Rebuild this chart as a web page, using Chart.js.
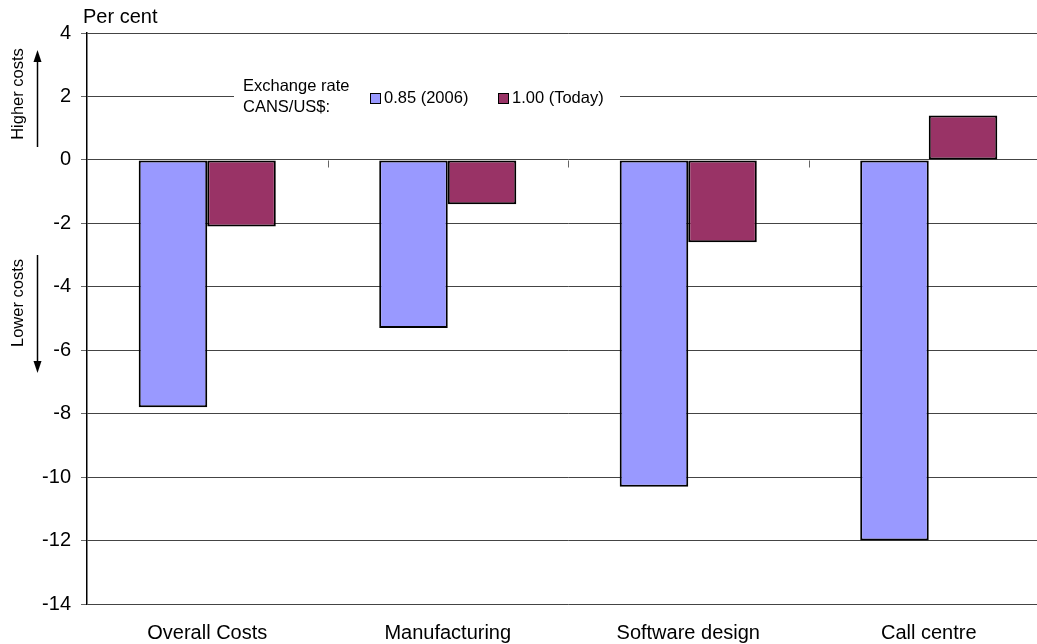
<!DOCTYPE html>
<html>
<head>
<meta charset="utf-8">
<script src="https://cdn.jsdelivr.net/npm/chart.js@4/dist/chart.umd.min.js"></script>
<style>
  html, body { margin: 0; padding: 0; background: #fff; overflow: hidden; }
  #wrap { width: 1050px; height: 644px; }
</style>
</head>
<body>
<div id="wrap"><canvas id="chart"></canvas></div>
<script>
// chart data
var categories = ['Overall Costs', 'Manufacturing', 'Software design', 'Call centre'];
var rate2006 = [-7.8, -5.3, -10.3, -12.0];
var rateToday = [-2.1, -1.4, -2.6, 1.4];
var seriesNames = ['0.85 (2006)', '1.00 (Today)'];
var legendTitle = ['Exchange rate', 'CANS/US$:'];
var yTicks = [4, 2, 0, -2, -4, -6, -8, -10, -12, -14];

var FONT = 'Arial, "Liberation Sans", sans-serif';
var SMALL = '16.5px ' + FONT;

// extra bits: zero-line ticks, side notes, unit label, legend box
var extras = {
  id: 'extras',
  afterDatasetsDraw: function(chart) {
    var ctx = chart.ctx;
    var x = chart.scales.x, y = chart.scales.y;
    var zero = Math.round(y.getPixelForValue(0)) + 0.5;
    ctx.save();
    // ticks on zero line between categories
    ctx.strokeStyle = '#666';
    ctx.lineWidth = 1;
    for (var i = 0; i < categories.length - 1; i++) {
      var bx = Math.round((x.getPixelForValue(i) + x.getPixelForValue(i + 1)) / 2) + 0.5;
      ctx.beginPath();
      ctx.moveTo(bx, zero);
      ctx.lineTo(bx, zero + 7);
      ctx.stroke();
    }
    // unit
    ctx.fillStyle = '#000';
    ctx.font = '20px ' + FONT;
    ctx.textAlign = 'left';
    ctx.textBaseline = 'alphabetic';
    ctx.fillText('Per cent', 83, 23);

    // rotated notes
    ctx.font = SMALL;
    ctx.textAlign = 'center';
    ctx.textBaseline = 'middle';
    ctx.save();
    ctx.translate(18, 94);
    ctx.rotate(-Math.PI / 2);
    ctx.fillText('Higher costs', 0, 0);
    ctx.restore();
    ctx.save();
    ctx.translate(18, 303);
    ctx.rotate(-Math.PI / 2);
    ctx.fillText('Lower costs', 0, 0);
    ctx.restore();

    // arrows
    ctx.strokeStyle = '#000';
    ctx.fillStyle = '#000';
    ctx.lineWidth = 1.5;
    ctx.beginPath(); ctx.moveTo(37.5, 147); ctx.lineTo(37.5, 58); ctx.stroke();
    ctx.beginPath(); ctx.moveTo(33.5, 62); ctx.lineTo(37.5, 50); ctx.lineTo(41.5, 62); ctx.closePath(); ctx.fill();
    ctx.beginPath(); ctx.moveTo(37.5, 255); ctx.lineTo(37.5, 365); ctx.stroke();
    ctx.beginPath(); ctx.moveTo(33.5, 361); ctx.lineTo(37.5, 373); ctx.lineTo(41.5, 361); ctx.closePath(); ctx.fill();

    // legend
    ctx.fillStyle = '#fff';
    ctx.fillRect(234, 76, 386, 44);
    ctx.fillStyle = '#000';
    ctx.textAlign = 'left';
    ctx.fillText(legendTitle[0], 243, 86);
    ctx.fillText(legendTitle[1], 243, 107);
    var lx = [370, 498];
    ctx.lineWidth = 1;
    chart.data.datasets.forEach(function(ds, k) {
      ctx.fillStyle = ds.backgroundColor;
      ctx.fillRect(lx[k] + 0.5, 93.5, 10, 10);
      ctx.strokeStyle = '#000';
      ctx.strokeRect(lx[k] + 0.5, 93.5, 10, 10);
      ctx.fillStyle = '#000';
      ctx.fillText(ds.label, lx[k] + 14, 98);
    });
    ctx.restore();
  }
};

var chart = new Chart(document.getElementById('chart'), {
  type: 'bar',
  data: {
    labels: categories,
    datasets: [
      { label: seriesNames[0], data: rate2006, backgroundColor: '#9999FF', borderColor: '#000', borderWidth: 2, borderSkipped: false },
      { label: seriesNames[1], data: rateToday, backgroundColor: '#993366', borderColor: '#000', borderWidth: 2, borderSkipped: false }
    ]
  },
  options: {
    responsive: true,
    maintainAspectRatio: false,
    animation: false,
    layout: { padding: { top: 33, right: 1, left: 0, bottom: 0 } },
    datasets: { bar: { categoryPercentage: 0.57, barPercentage: 1.0 } },
    plugins: {
      legend: { display: false },
      tooltip: { enabled: false }
    },
    scales: {
      x: {
        grid: { display: false, drawTicks: false },
        border: { display: false },
        ticks: { color: '#000', font: { size: 20, family: FONT }, padding: 17 },
        afterFit: function(s) { s.height = 40; }
      },
      y: {
        min: -14,
        max: 4,
        afterBuildTicks: function(s) { s.ticks = yTicks.map(function(v) { return { value: v }; }); },
        grid: { color: '#444', lineWidth: 1, tickLength: 6, tickColor: '#666' },
        border: { color: '#000', width: 1.5 },
        ticks: { color: '#000', font: { size: 20, family: FONT }, padding: 10 },
        afterFit: function(s) { s.width = 87; }
      }
    }
  },
  plugins: [extras]
});
</script>
</body>
</html>
